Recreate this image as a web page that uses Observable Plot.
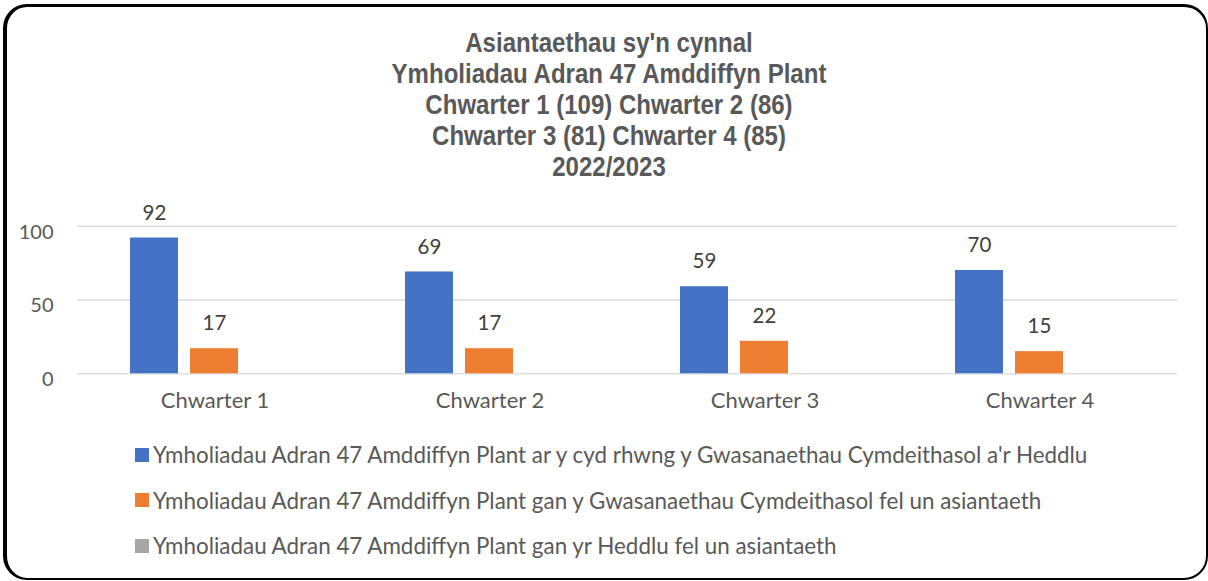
<!DOCTYPE html>
<html>
<head>
<meta charset="utf-8">
<script src="https://cdn.jsdelivr.net/npm/d3@7"></script>
<script src="https://cdn.jsdelivr.net/npm/@observablehq/plot@0.6"></script>
<style>
  html, body { margin: 0; padding: 0; background: #fff; }
  #wrap { position: relative; width: 1208px; height: 581px; overflow: hidden; }
  #frame { position: absolute; left: 3px; top: 4px; width: 1205px; height: 576px; box-sizing: border-box;
    border-style: solid; border-color: #000; border-width: 3px 2px 2px 4px; border-radius: 24px; pointer-events: none; }
  #title { position: absolute; left: 0; width: 1218px; top: 28px; text-align: center;
    font-family: "Liberation Sans", Arial, sans-serif; font-weight: bold; font-size: 27px;
    line-height: 31px; color: #595959; }
  #title div { transform: scaleX(0.89); transform-origin: center; }
  #chart { position: absolute; left: 0; top: 0; }
  #legend { position: absolute; left: 135px; top: 432px; font-family: Lato, sans-serif; font-size: 22.4px; color: #595959; }
  .li { height: 45.5px; display: flex; align-items: center; white-space: nowrap; }
  .sw { width: 14px; height: 14px; margin-right: 4px; flex: none; }
</style>
</head>
<body>
<div id="wrap">
  <div id="chart"></div>
  <div id="title"></div>
  <div id="legend"></div>
  <div id="frame"></div>
</div>
<script>
const titleLines = [
  "Asiantaethau sy'n cynnal",
  "Ymholiadau Adran 47 Amddiffyn Plant",
  "Chwarter 1 (109) Chwarter 2 (86)",
  "Chwarter 3 (81) Chwarter 4 (85)",
  "2022/2023"
];
const categories = ["Chwarter 1", "Chwarter 2", "Chwarter 3", "Chwarter 4"];
const seriesNames = [
  "Ymholiadau Adran 47 Amddiffyn Plant ar y cyd rhwng y Gwasanaethau Cymdeithasol a'r Heddlu",
  "Ymholiadau Adran 47 Amddiffyn Plant gan y Gwasanaethau Cymdeithasol fel un asiantaeth",
  "Ymholiadau Adran 47 Amddiffyn Plant gan yr Heddlu fel un asiantaeth"
];
const jointValues = [92, 69, 59, 70];
const socialValues = [17, 17, 22, 15];
const policeValues = [0, 0, 0, 0];
const yTicks = [0, 50, 100];
const colors = ["#4472C4", "#ED7D31", "#A5A5A5"];

const seriesValues = [jointValues, socialValues, policeValues];
const data = [];
categories.forEach((c, i) => {
  seriesNames.forEach((s, j) => data.push({cat: c, series: s, value: seriesValues[j][i]}));
});

document.getElementById("title").innerHTML = titleLines.map(t => `<div>${t}</div>`).join("");
document.getElementById("legend").innerHTML = seriesNames.map((s, j) =>
  `<div class="li"><span class="sw" style="background:${colors[j]}"></span><span>${s}</span></div>`).join("");

const chart = Plot.plot({
  width: 1208,
  height: 581,
  marginLeft: 77,
  marginRight: 31,
  marginTop: 225.7,
  marginBottom: 207.7,
  style: {fontFamily: "Lato, sans-serif", fontSize: "20px", color: "#595959", background: "transparent"},
  fx: {domain: categories, padding: 0, label: null},
  x: {domain: seriesNames, paddingInner: 0.197, paddingOuter: 0.853, axis: null},
  y: {domain: [0, 100], label: null},
  color: {domain: seriesNames, range: colors},
  marks: [
    Plot.ruleY(yTicks, {stroke: "#d9d9d9", strokeWidth: 1.3}),
    Plot.axisY({ticks: yTicks, tickSize: 0, tickPadding: 24, dy: 6, fontSize: 20, label: null}),
    Plot.axisFx({anchor: "bottom", tickSize: 0, tickPadding: 19, fontSize: 22, label: null}),
    Plot.barY(data, {fx: "cat", x: "series", y: "value", fill: "series"}),
    Plot.text(data, {fx: "cat", x: "series", y: "value", text: d => String(d.value),
      filter: d => d.value > 0, dy: -25, lineAnchor: "middle", fontSize: 20.5, fill: "#404040"})
  ]
});
document.getElementById("chart").appendChild(chart);
</script>
</body>
</html>
